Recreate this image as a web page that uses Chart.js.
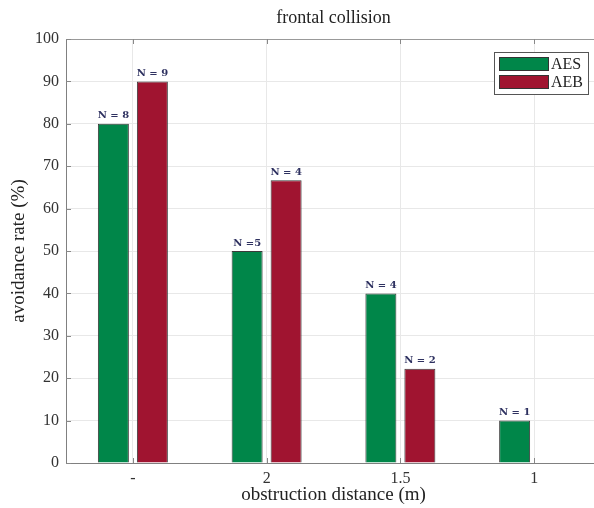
<!DOCTYPE html>
<html lang="en">
<head>
<meta charset="UTF-8">
<script src="https://cdn.jsdelivr.net/npm/chart.js@4/dist/chart.umd.min.js"></script>
<title>frontal collision</title>
<style>
  html, body { margin: 0; padding: 0; overflow: hidden; background: #fff; }
  #wrap { width: 602px; height: 508px; }
</style>
</head>
<body>
<div id="wrap"><canvas id="grafico"></canvas></div>
<script>
    // dati
    var categorie = ['-', '2', '1.5', '1'];
    var tassoAES = [80, 50, 40, 10];
    var tassoAEB = [90, 66.7, 22.2, null];
    var etichetteAES = ['N = 8', 'N =5', 'N = 4', 'N = 1'];
    var etichetteAEB = ['N = 9', 'N = 4', 'N = 2', ''];
    var titolo = 'frontal collision';

    var verde = 'rgb(0, 134, 73)';
    var rosso = 'rgb(160, 20, 48)';
    var serif = "'Liberation Serif', 'DejaVu Serif', serif";

    // titolo centrato sull'area del grafico + tacche interne stile MATLAB
    var cornicePlugin = {
        id: 'cornice',
        afterDraw: function(chart) {
            var ctx = chart.ctx;
            var a = chart.chartArea;
            ctx.save();
            ctx.font = '18px ' + serif;
            ctx.fillStyle = '#222';
            ctx.textAlign = 'center';
            ctx.textBaseline = 'alphabetic';
            ctx.fillText(titolo, (a.left + a.right) / 2, 23);

            ctx.strokeStyle = '#888';
            ctx.lineWidth = 1;
            ctx.beginPath();
            chart.scales.x.ticks.forEach(function(t, i) {
                var x = Math.round(chart.scales.x.getPixelForTick(i)) + 0.5;
                ctx.moveTo(x, a.top); ctx.lineTo(x, a.top + 5);
                ctx.moveTo(x, a.bottom); ctx.lineTo(x, a.bottom - 5);
            });
            chart.scales.y.ticks.forEach(function(t, i) {
                var y = Math.round(chart.scales.y.getPixelForTick(i)) + 0.5;
                ctx.moveTo(a.left, y); ctx.lineTo(a.left + 5, y);
            });
            ctx.stroke();
            ctx.restore();
        }
    };

    // etichette "N = x" sopra le barre
    var etichettePlugin = {
        id: 'etichette',
        afterDatasetsDraw: function(chart) {
            var ctx = chart.ctx;
            var testi = [etichetteAES, etichetteAEB];
            ctx.save();
            ctx.font = "bold 10px 'DejaVu Serif', serif";
            ctx.fillStyle = '#2e3160';
            ctx.textAlign = 'center';
            ctx.textBaseline = 'bottom';
            chart.data.datasets.forEach(function(ds, i) {
                chart.getDatasetMeta(i).data.forEach(function(bar, j) {
                    if (ds.data[j] == null || !testi[i][j]) return;
                    ctx.fillText(testi[i][j], bar.x, bar.y - 3);
                });
            });
            ctx.restore();
        }
    };

    // legenda dentro l'area del grafico, con riquadro
    var legendaPlugin = {
        id: 'legendaBox',
        afterDraw: function(chart) {
            var ctx = chart.ctx;
            var x = 494, y = 52, w = 94, h = 42;
            ctx.save();
            ctx.fillStyle = '#fff';
            ctx.fillRect(x, y, w, h);
            ctx.strokeStyle = '#555';
            ctx.lineWidth = 1;
            ctx.strokeRect(x + 0.5, y + 0.5, w, h);
            ctx.font = '16px ' + serif;
            ctx.textBaseline = 'middle';
            chart.data.datasets.forEach(function(ds, i) {
                var ry = y + 5 + i * 18;
                ctx.fillStyle = ds.backgroundColor;
                ctx.fillRect(x + 5, ry, 49, 14);
                ctx.strokeStyle = '#333';
                ctx.strokeRect(x + 5.5, ry + 0.5, 49, 13);
                ctx.fillStyle = '#222';
                ctx.fillText(ds.label, x + 57, ry + 8);
            });
            ctx.restore();
        }
    };

    var data = {
        labels: categorie,
        datasets: [
            {
                label: 'AES',
                backgroundColor: verde,
                borderColor: '#3a3a3a',
                borderWidth: 1,
                data: tassoAES
            },
            {
                label: 'AEB',
                backgroundColor: rosso,
                borderColor: '#3a3a3a',
                borderWidth: 1,
                data: tassoAEB
            }
        ]
    };

    var options = {
        responsive: true,
        maintainAspectRatio: false,
        animation: false,
        layout: { padding: { left: 0, right: 1, top: 39, bottom: 0 } },
        categoryPercentage: 0.583,
        barPercentage: 0.795,
        plugins: {
            legend: { display: false },
            tooltip: { enabled: false },
            title: { display: false }
        },
        scales: {
            x: {
                grid: { color: '#e8e8e8', drawTicks: false, offset: false },
                border: { color: '#808080' },
                ticks: { color: '#333', font: { family: serif, size: 16 }, padding: 6 },
                title: {
                    display: true,
                    text: 'obstruction distance (m)',
                    color: '#222',
                    font: { family: serif, size: 19 },
                    padding: { top: 0, bottom: 2 }
                },
                afterFit: function(scale) { scale.height = 45; }
            },
            y: {
                min: 0,
                max: 100,
                ticks: { stepSize: 10, color: '#333', font: { family: serif, size: 16 }, padding: 7 },
                grid: {
                    drawTicks: false,
                    color: function(c) { return c.tick.value === 100 ? '#999' : '#e8e8e8'; }
                },
                border: { color: '#808080' },
                title: {
                    display: true,
                    text: 'avoidance rate (%)',
                    color: '#222',
                    font: { family: serif, size: 19 },
                    padding: { top: 8, bottom: 4 }
                },
                afterFit: function(scale) { scale.width = 66; }
            }
        }
    };

    new Chart('grafico', {
        type: 'bar',
        data: data,
        options: options,
        plugins: [etichettePlugin, legendaPlugin, cornicePlugin]
    });
</script>
</body>
</html>
